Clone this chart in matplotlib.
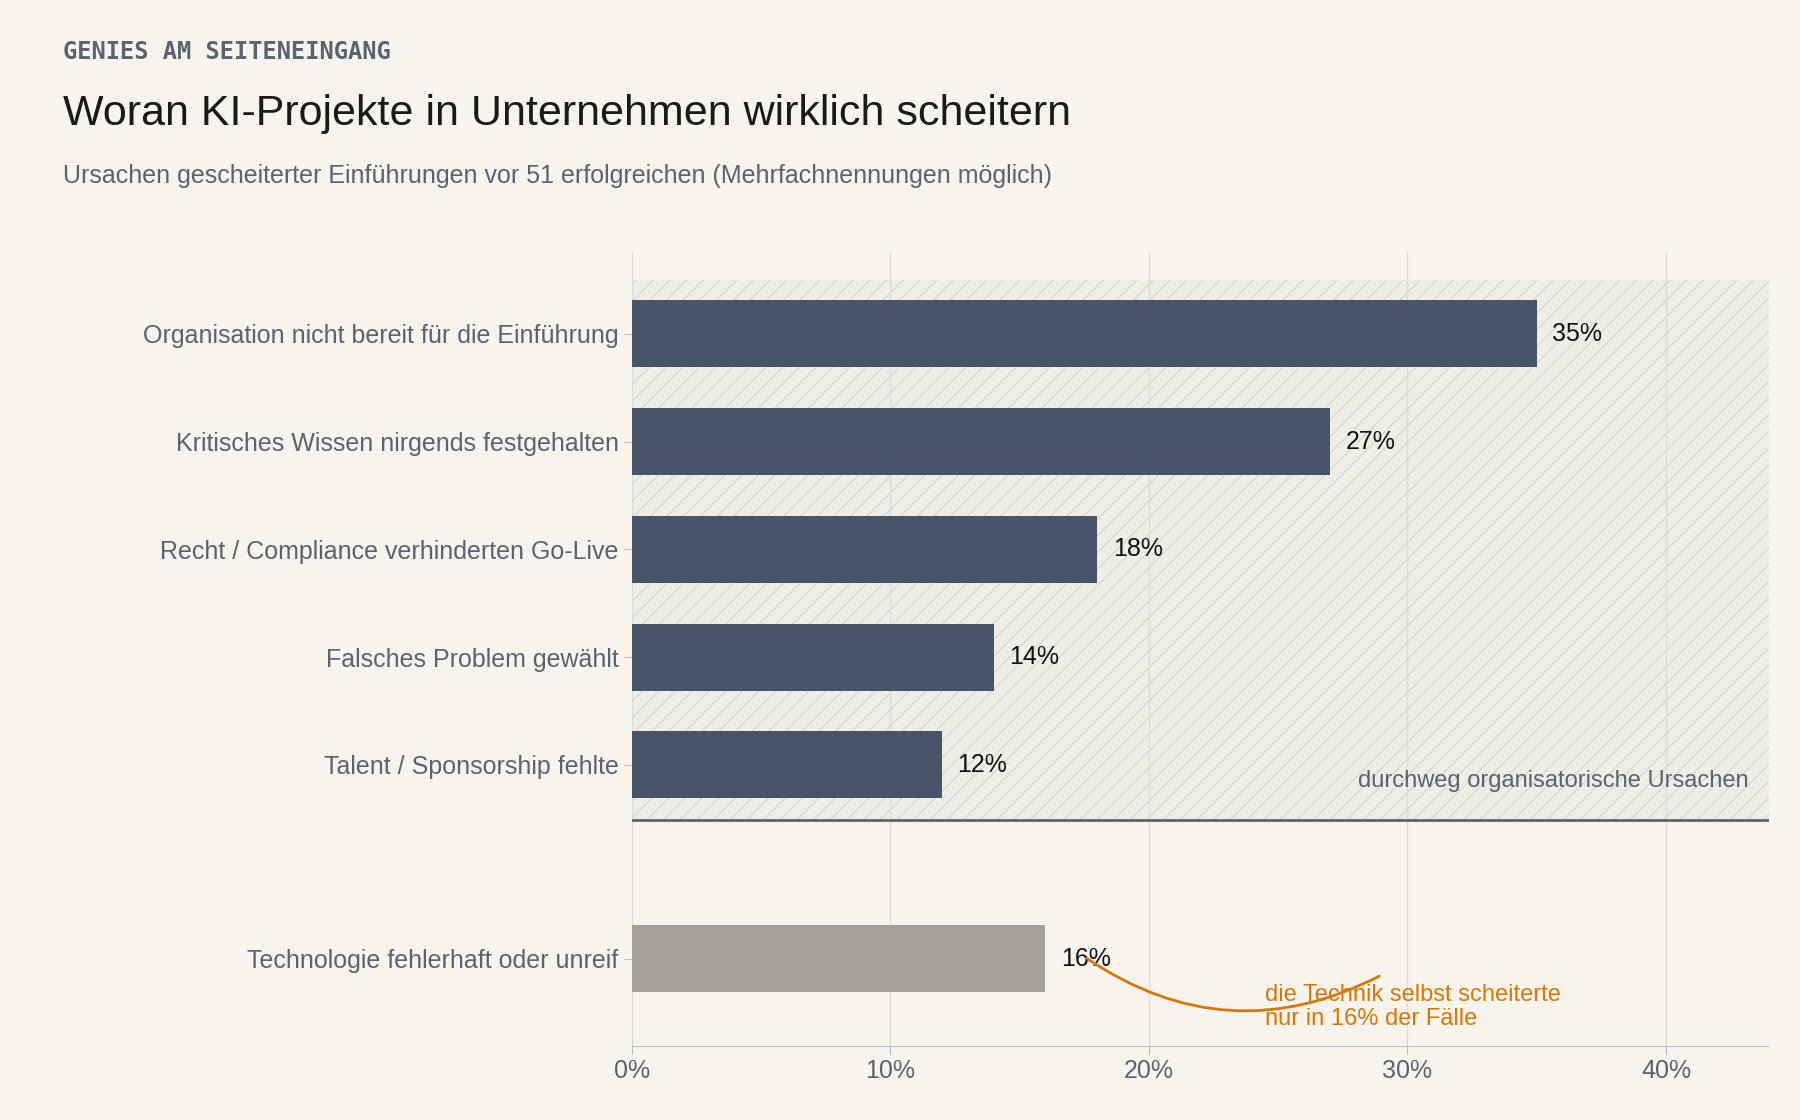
import matplotlib.pyplot as plt
from matplotlib.patches import FancyArrowPatch

plt.rcParams['font.family'] = ['Liberation Sans', 'DejaVu Sans']

labels = ['Organisation nicht bereit für die Einführung',
          'Kritisches Wissen nirgends festgehalten',
          'Recht / Compliance verhinderten Go-Live',
          'Falsches Problem gewählt',
          'Talent / Sponsorship fehlte',
          'Technologie fehlerhaft oder unreif']
values = [35, 27, 18, 14, 12, 16]
ypos = [0, 1, 2, 3, 4, 5.8]
colors = ['#465467'] * 5 + ['#a5a09b']

bg = '#f7f4ee'
fig = plt.figure(figsize=(18, 11.2), dpi=100, facecolor=bg)
ax = fig.add_axes([0.351, 0.066, 0.632, 0.709], facecolor=bg)

# shaded organisational block
ax.axhspan(-0.5, 4.51, xmin=0, xmax=1, facecolor='#eeeee7', edgecolor='#d9d9d1',
           hatch='//', linewidth=0, zorder=0)
ax.axhline(4.51, color='#5b6270', lw=2, zorder=3)

ax.barh(ypos, values, height=0.62, color=colors, zorder=2)
for y, v in zip(ypos, values):
    ax.text(v + 0.6, y, f'{v}%', va='center', ha='left', fontsize=18, color='#111111', zorder=4)

ax.text(43.2, 4.15, 'durchweg organisatorische Ursachen', ha='right', va='center',
        fontsize=17, color='#5b6270')

arr = FancyArrowPatch((17.5, 5.78), (29.0, 5.95), connectionstyle='arc3,rad=0.3',
                      arrowstyle='-', color='#d97706', lw=2, zorder=5)
ax.add_patch(arr)
ax.text(24.5, 6.25, 'die Technik selbst scheiterte\nnur in 16% der Fälle', ha='left',
        va='center', fontsize=17, color='#d97706', linespacing=1.1)

ax.set_xlim(0, 44)
ax.set_ylim(6.61, -0.76)
ax.set_xticks([0, 10, 20, 30, 40])
ax.set_xticklabels([f'{t}%' for t in [0, 10, 20, 30, 40]])
ax.set_yticks(ypos)
ax.set_yticklabels(labels)
ax.tick_params(axis='both', labelsize=18, colors='#b8bcc4', labelcolor='#5b6270')
ax.tick_params(axis='y', length=6)
ax.tick_params(axis='x', length=6)
ax.grid(axis='x', color='#dcdcdc', lw=1, zorder=1)
for s in ['top', 'right', 'left']:
    ax.spines[s].set_visible(False)
ax.spines['bottom'].set_color('#c0c4cc')

fig.text(0.035, 0.954, 'GENIES AM SEITENEINGANG', family='DejaVu Sans Mono', weight='bold',
         fontsize=17, color='#5b6270', va='center')
fig.text(0.035, 0.898, 'Woran KI-Projekte in Unternehmen wirklich scheitern', fontsize=31,
         color='#1a1a1a', va='center')
fig.text(0.035, 0.843, 'Ursachen gescheiterter Einführungen vor 51 erfolgreichen (Mehrfachnennungen möglich)',
         fontsize=18, color='#5b6270', va='center')

fig.savefig('out.png', facecolor=bg)
